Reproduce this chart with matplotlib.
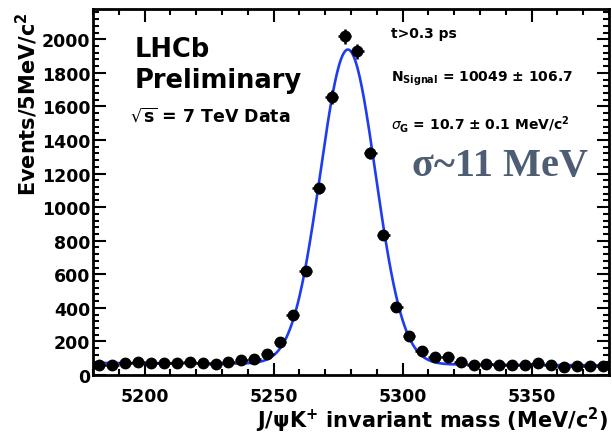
import numpy as np
import matplotlib.pyplot as plt
from matplotlib.ticker import MultipleLocator

# binned data, 5 MeV bins
mass = np.arange(5182.5, 5380, 5.0)
events = [61, 61, 69, 75, 69, 69, 69, 79, 69, 65,
          75, 89, 95, 125, 198, 356, 619, 1111, 1656, 2018,
          1927, 1324, 836, 407, 233, 144, 105, 109, 75, 61,
          65, 61, 61, 61, 69, 61, 45, 55, 55, 55]
events = np.array(events, dtype=float)

# fit result shown on the plot
n_signal = 10049
sigma_g = 10.7
mean = 5278.8
bin_width = 5.0
bkg_left, bkg_right = 72, 58

xfit = np.linspace(5180, 5380, 801)
bkg = bkg_left + (bkg_right - bkg_left) * (xfit - 5180) / 200.0
yfit = n_signal * bin_width / (np.sqrt(2 * np.pi) * sigma_g) * np.exp(-0.5 * ((xfit - mean) / sigma_g) ** 2) + bkg

W, H = 612, 439
def px(x, y):
    return x / W, 1 - y / H

fig = plt.figure(figsize=(W / 100, H / 100), dpi=100)
ax = fig.add_axes([93 / W, 1 - 376 / H, (609 - 93) / W, (376 - 10) / H])

ax.plot(xfit, yfit, color='#1f3cf0', lw=1.9, zorder=2)
ax.errorbar(mass, events, yerr=np.sqrt(events), xerr=bin_width / 2, fmt='o',
            color='black', ms=7.5, elinewidth=1.8, capsize=0, zorder=3)

ax.set_xlim(5180, 5380)
ax.set_ylim(0, 2180)
ax.xaxis.set_major_locator(MultipleLocator(50))
ax.xaxis.set_minor_locator(MultipleLocator(10))
ax.yaxis.set_major_locator(MultipleLocator(200))
ax.yaxis.set_minor_locator(MultipleLocator(40))
ax.tick_params(which='both', direction='in', top=True, right=True, width=1.5)
ax.tick_params(which='major', length=9)
ax.tick_params(which='minor', length=4)
ax.tick_params(axis='y', labelsize=12.5, pad=2)
ax.tick_params(axis='x', labelsize=12.5, pad=9)
for lab in ax.get_xticklabels() + ax.get_yticklabels():
    lab.set_fontweight('bold')
for s in ax.spines.values():
    s.set_linewidth(2)

# axis titles, ROOT style
fig.text(*px(14, 12), r'Events/5MeV/c$^{\mathbf{2}}$', rotation=90, ha='left', va='top',
         fontsize=15, fontweight='bold')
fig.text(*px(608, 428), r'J/ψK$^{\mathbf{+}}$ invariant mass (MeV/c$^{\mathbf{2}}$)',
         ha='right', va='baseline', fontsize=15, fontweight='bold')

# labels
fig.text(*px(135, 57), 'LHCb', fontsize=18.5, fontweight='bold', va='baseline')
fig.text(*px(135, 88), 'Preliminary', fontsize=18.5, fontweight='bold', va='baseline')
fig.text(*px(130, 122), r'$\sqrt{\mathbf{s}}$ = 7 TeV Data', fontsize=12.5, fontweight='bold', va='baseline')

fig.text(*px(391, 38), 't>0.3 ps', fontsize=10, fontweight='bold', va='baseline')
fig.text(*px(391, 82), r'N$_{\mathbf{Signal}}$ = 10049 ± 106.7', fontsize=10, fontweight='bold', va='baseline')
fig.text(*px(391, 130), r'$\sigma_{\mathbf{G}}$ = 10.7 ± 0.1 MeV/c$^{\mathbf{2}}$', fontsize=10,
         fontweight='bold', va='baseline')
fig.text(*px(412, 176), 'σ~11 MeV', fontsize=29, fontweight='bold', va='baseline',
         family=['Liberation Serif', 'DejaVu Serif'], color='#4d5d74')

fig.savefig('out.png', dpi=100)
